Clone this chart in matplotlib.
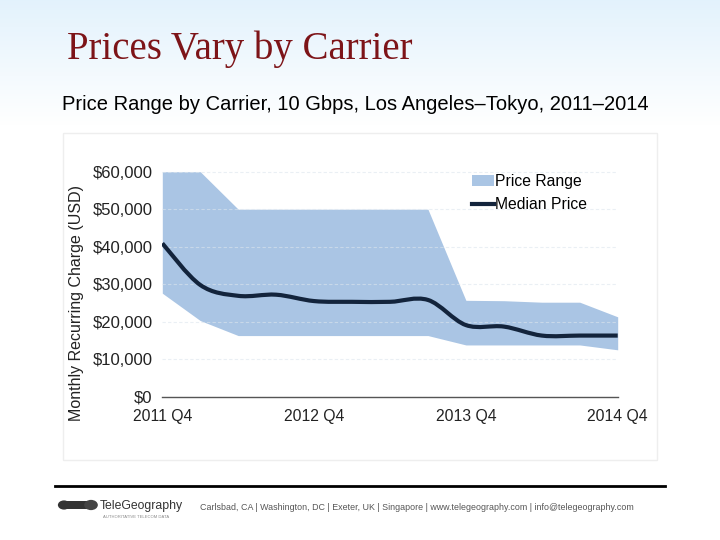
import numpy as np
import matplotlib.pyplot as plt
from matplotlib.patches import Rectangle, Circle, PathPatch
from matplotlib.path import Path
from matplotlib.lines import Line2D

# quarterly data, 2011 Q4 -> 2014 Q4
quarters = ["2011 Q4", "2012 Q1", "2012 Q2", "2012 Q3", "2012 Q4", "2013 Q1", "2013 Q2",
            "2013 Q3", "2013 Q4", "2014 Q1", "2014 Q2", "2014 Q3", "2014 Q4"]
price_high = [60000, 60000, 50000, 50000, 50000, 50000, 50000, 50000, 25700, 25600, 25200, 25200, 21300]
price_low = [27600, 20300, 16300, 16300, 16300, 16300, 16300, 16300, 13800, 13800, 13800, 13800, 12500]
median_price = [40900, 29800, 26900, 27200, 25500, 25300, 25300, 25800, 19100, 18700, 16300, 16300, 16300]
y_ticks = [0, 10000, 20000, 30000, 40000, 50000, 60000]
x_tick_labels = ["2011 Q4", "2012 Q4", "2013 Q4", "2014 Q4"]

plt.rcParams['font.family'] = ['Liberation Sans', 'DejaVu Sans']

fig = plt.figure(figsize=(7.2, 5.4), dpi=100)

# slide background: light blue fading to white
bg = fig.add_axes([0, 0, 1, 1], zorder=-10)
grad = np.ones((540, 1, 3))
top = np.array([0.89, 0.95, 0.99])
for i in range(540):
    t = min(i / 125.0, 1.0)
    grad[i, 0] = top * (1 - t) + np.ones(3) * t
bg.imshow(grad, aspect='auto', extent=[0, 1, 0, 1], origin='upper')
bg.set_xlim(0, 1)
bg.set_ylim(0, 1)
bg.axis('off')

# chart panel box
bg.add_patch(Rectangle((63 / 720, 1 - 460 / 540), (657 - 63) / 720, (460 - 133) / 540,
                       facecolor='white', edgecolor='#eeeeee', linewidth=1))

# title + subtitle
fig.text(67 / 720, 1 - 49 / 540, "Prices Vary by Carrier", family='Liberation Serif',
         fontsize=28, color='#7d1418', va='center', ha='left')
fig.text(62 / 720, 1 - 105 / 540, "Price Range by Carrier, 10 Gbps, Los Angeles\u2013Tokyo, 2011\u20132014",
         fontsize=14.5, color='black', va='center', ha='left')

# main chart
ax = fig.add_axes([162.3 / 720, 143.3 / 540, 455.4 / 720, 243.75 / 540])
x = np.arange(len(quarters))
ax.fill_between(x, price_low, price_high, color='#aac5e4', linewidth=0, zorder=1)

# median drawn as a smooth curve through the quarterly points
pts = np.column_stack([x, median_price]).astype(float)
verts = [pts[0]]
codes = [Path.MOVETO]
n = len(pts)
for i in range(n - 1):
    p0 = pts[max(i - 1, 0)]
    p1 = pts[i]
    p2 = pts[i + 1]
    p3 = pts[min(i + 2, n - 1)]
    verts += [p1 + (p2 - p0) / 6, p2 - (p3 - p1) / 6, p2]
    codes += [Path.CURVE4] * 3
ax.add_patch(PathPatch(Path(verts, codes), facecolor='none', edgecolor='#13243c',
                       linewidth=3, capstyle='butt', joinstyle='round', zorder=3))

ax.set_xlim(0, 12)
ax.set_ylim(0, 65000)
ax.set_yticks(y_ticks)
ax.set_yticklabels(["${:,}".format(v) for v in y_ticks])
ax.set_xticks([quarters.index(q) for q in x_tick_labels])
ax.set_xticklabels(x_tick_labels)
ax.tick_params(length=0, colors='#222222')
ax.tick_params(axis='y', labelsize=12, pad=7)
ax.tick_params(axis='x', labelsize=11.3, pad=9)
ax.grid(axis='y', color='#dde5ee', alpha=0.6, linestyle=(0, (3, 2)), linewidth=0.8, zorder=2)
ax.set_axisbelow(False)
for s in ['top', 'right', 'left']:
    ax.spines[s].set_visible(False)
ax.spines['bottom'].set_color('#555555')
ax.spines['bottom'].set_linewidth(1)
ax.spines['bottom'].set_zorder(4)
ax.set_ylabel("Monthly Recurring Charge (USD)", fontsize=11.5, color='#222222')
ax.yaxis.set_label_coords(-0.172, 0.384)
ax.patch.set_alpha(0)

handles = [Rectangle((0, 0), 1, 1, facecolor='#aac5e4', edgecolor='none'),
           Line2D([0], [0], color='#13243c', linewidth=3)]
ax.legend(handles, ["Price Range", "Median Price"], loc='upper left',
          bbox_to_anchor=(0.666, 0.94), frameon=False, fontsize=11.3,
          handlelength=1.4, handletextpad=0.1, labelspacing=0.55, borderaxespad=0)

# footer
bg.plot([55 / 720, 665 / 720], [1 - 486 / 540] * 2, color='black', linewidth=2)
bg.add_patch(Circle((64 / 720, 1 - 505 / 540), 0.0085, transform=bg.transAxes,
                    facecolor='#333333', edgecolor='none'))
bg.add_patch(Rectangle((67 / 720, 1 - 509 / 540), 20 / 720, 8 / 540, facecolor='#333333', edgecolor='none'))
bg.add_patch(Circle((91 / 720, 1 - 505 / 540), 0.0095, transform=bg.transAxes,
                    facecolor='#444444', edgecolor='none'))
fig.text(100 / 720, 1 - 506 / 540, "TeleGeography", fontsize=8.8, color='#333333', va='center', ha='left')
fig.text(103 / 720, 1 - 517 / 540, "AUTHORITATIVE TELECOM DATA", fontsize=3, color='#888888',
         va='center', ha='left')
fig.text(200 / 720, 1 - 507 / 540,
         "Carlsbad, CA | Washington, DC | Exeter, UK | Singapore | www.telegeography.com | info@telegeography.com",
         fontsize=6.4, color='#555555', va='center', ha='left')

fig.savefig("out.png", dpi=100)
